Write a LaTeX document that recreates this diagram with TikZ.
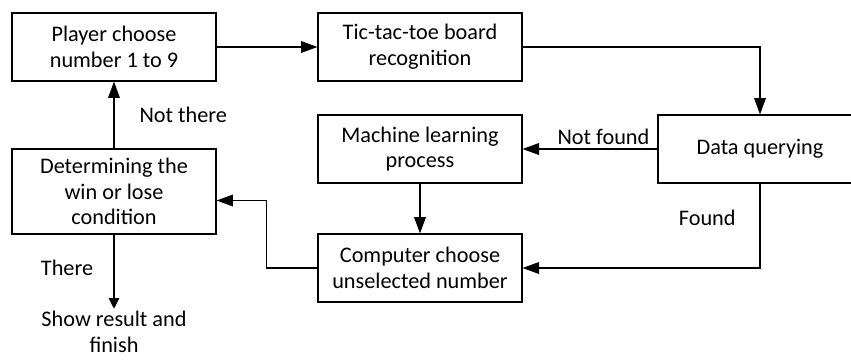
\documentclass[tikz,border=0pt]{standalone}
\usepackage{fontspec}
\setmainfont{Carlito}
\usetikzlibrary{arrows.meta}

\tikzset{
  box/.style = {draw, line width=1pt, minimum width=6.12cm, minimum height=2.04cm,
                align=center, font=\fontsize{19}{22}\selectfont},
  lbl/.style = {align=center, font=\fontsize{19}{22}\selectfont},
  arr/.style = {line width=1pt, -{Triangle[length=14pt,width=10pt]}}
}

\begin{document}
\begin{tikzpicture}[x=0.03cm, y=-0.03cm]
  \useasboundingbox (0,0) rectangle (851,359);

  \node[box] (player) at (114,47) {Player choose\\number 1 to 9};
  \node[box] (board) at (420,47) {Tic-tac-toe board\\recognition};
  \node[box] (query) at (760,149) {Data querying};
  \node[box] (learn) at (420,149) {Machine learning\\process};
  \node[box, minimum height=2.55cm] (judge) at (114,191.5) {Determining the\\win or lose\\condition};
  \node[box] (comp) at (420,268) {Computer choose\\unselected number};
  \node[lbl, inner sep=2pt] (result) at (114,332) {Show result and\\finish};

  \draw[arr] (player) -- (board);
  \draw[arr] (board.east) -| (query.north);
  \draw[arr] (query.west) -- (learn.east) node[lbl, pos=0.4, above] (nf) {Not found};
  \draw[arr] (query.south) |- (comp.east) node[lbl, pos=0.2, left=17pt] (fd) {Found};
  \draw[arr] (learn) -- (comp);
  \draw[arr] (comp.west) -- ++(-51,0) |- ([yshift=-0.27cm]judge.east);
  \draw[arr] (judge.north) -- (player.south) node[lbl, midway, right=18pt] (nt) {Not there};
  \draw[line width=1pt, -{Triangle[length=9pt,width=9pt]}] (judge.south) -- (result.north)
    node[lbl, pos=0.45, left=14pt] (th) {There};
\end{tikzpicture}
\end{document}
